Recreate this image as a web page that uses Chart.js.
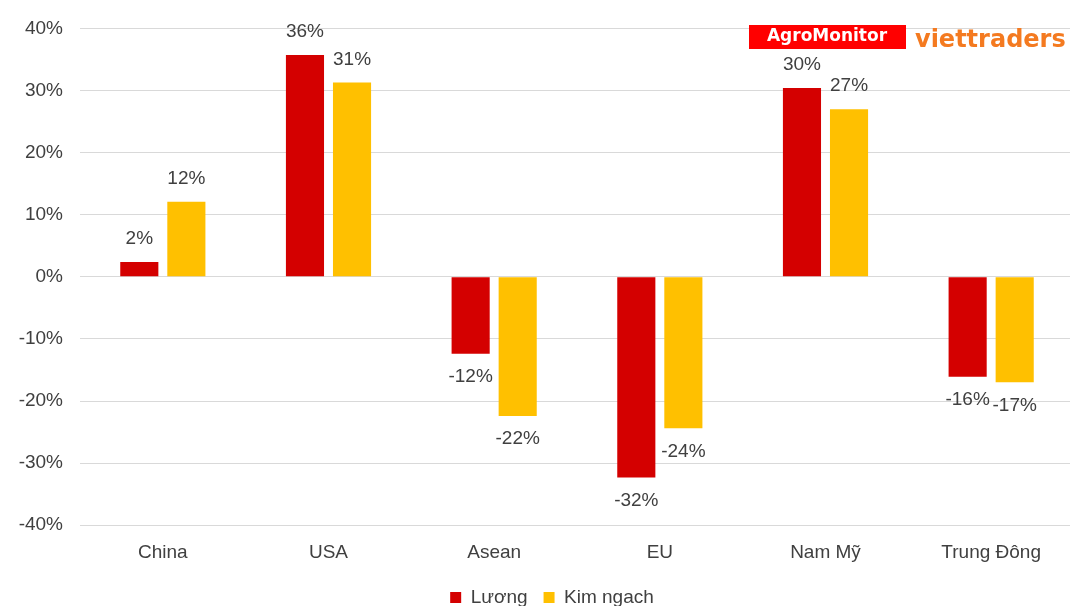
<!DOCTYPE html>
<html>
<head>
<meta charset="utf-8">
<script src="https://cdn.jsdelivr.net/npm/chart.js@4.4.1/dist/chart.umd.min.js"></script>
<style>
  html, body { margin: 0; padding: 0; background: #ffffff; overflow: hidden; }
  #wrap { position: relative; width: 1074px; height: 617px; }
</style>
</head>
<body>
<div id="wrap"><canvas id="c"></canvas></div>
<script>
const categories = ['China', 'USA', 'Asean', 'EU', 'Nam Mỹ', 'Trung Đông'];
const luongValues = [2.4, 35.7, -12.4, -32.3, 30.4, -16.1];
const kimNgachValues = [12.1, 31.3, -22.4, -24.4, 27.0, -17.0];
const seriesNames = ['Lương', 'Kim ngach'];
const yTickMin = -40;
const yTickMax = 40;
const yTickStep = 10;

const TEXT = '#404040';
const FONT = '"Liberation Sans", Arial, sans-serif';

const labelPlugin = {
  id: 'barLabels',
  afterDatasetsDraw(chart) {
    const ctx = chart.ctx;
    ctx.save();
    ctx.font = '19px ' + FONT;
    ctx.fillStyle = TEXT;
    ctx.textAlign = 'center';
    ctx.textBaseline = 'middle';
    chart.data.datasets.forEach((ds, di) => {
      const meta = chart.getDatasetMeta(di);
      meta.data.forEach((bar, i) => {
        const v = ds.data[i];
        const y = v >= 0 ? bar.y - 23 : bar.y + 23;
        ctx.fillText(Math.round(v) + '%', bar.x, y);
      });
    });
    ctx.restore();
  }
};

const logoPlugin = {
  id: 'logo',
  afterDraw(chart) {
    const ctx = chart.ctx;
    ctx.save();
    ctx.fillStyle = '#ff0000';
    ctx.fillRect(749, 25, 157, 24);
    ctx.fillStyle = '#ffffff';
    ctx.font = 'bold 17px "DejaVu Sans", sans-serif';
    ctx.textAlign = 'center';
    ctx.textBaseline = 'middle';
    ctx.fillText('AgroMonitor', 827, 37);
    ctx.fillStyle = '#f47a20';
    ctx.font = 'bold 24px "DejaVu Sans", sans-serif';
    ctx.textAlign = 'left';
    ctx.textBaseline = 'alphabetic';
    ctx.fillText('viettraders', 915, 47);
    ctx.restore();
  }
};

const legendShift = {
  id: 'legendShift',
  afterLayout(chart) {
    if (chart.legend) {
      chart.legend.left += 15;
      chart.legend.right += 15;
    }
  }
};

new Chart(document.getElementById('c'), {
  type: 'bar',
  data: {
    labels: categories,
    datasets: [
      { label: seriesNames[0], data: luongValues, backgroundColor: '#d40000', categoryPercentage: 0.568, barPercentage: 0.81 },
      { label: seriesNames[1], data: kimNgachValues, backgroundColor: '#ffc000', categoryPercentage: 0.568, barPercentage: 0.81 }
    ]
  },
  options: {
    responsive: true,
    maintainAspectRatio: false,
    animation: false,
    layout: { padding: { top: 27, right: 0, left: 0, bottom: 0 } },
    plugins: {
      tooltip: { enabled: false },
      legend: {
        position: 'bottom',
        labels: {
          boxWidth: 11,
          boxHeight: 11,
          padding: 16,
          color: TEXT,
          font: { family: FONT, size: 19 }
        }
      }
    },
    scales: {
      x: {
        grid: { display: false },
        border: { display: false },
        ticks: { color: TEXT, font: { family: FONT, size: 19 }, padding: 8, maxRotation: 0 }
      },
      y: {
        min: yTickMin,
        max: yTickMax,
        afterFit(scale) { scale.width = 80; },
        grid: { color: '#d9d9d9', lineWidth: 1, drawTicks: false },
        border: { display: false },
        ticks: {
          stepSize: yTickStep,
          color: TEXT,
          padding: 17,
          font: { family: FONT, size: 19 },
          callback: (v) => v + '%'
        }
      }
    }
  },
  plugins: [labelPlugin, logoPlugin, legendShift]
});
</script>
</body>
</html>
